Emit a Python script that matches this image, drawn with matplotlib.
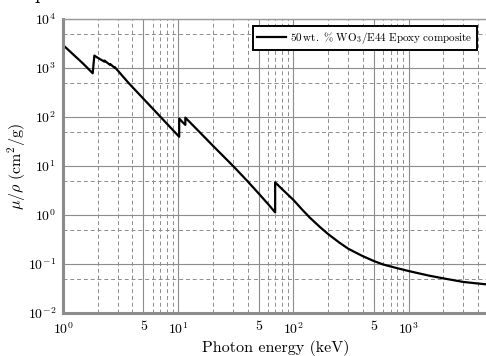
import matplotlib
matplotlib.use('Agg')
import matplotlib.pyplot as plt
import matplotlib.ticker as ticker
import numpy as np

plt.rcParams['font.family'] = 'serif'
plt.rcParams['font.serif'] = ['cmr10']
plt.rcParams['mathtext.fontset'] = 'cm'
plt.rcParams['axes.unicode_minus'] = False
plt.rcParams['axes.formatter.use_mathtext'] = True

# photon energy (keV) and mass attenuation coefficient (cm2/g)
energy = [1.0, 1.5, 1.81, 1.872, 2.0, 2.281, 2.281, 2.575, 2.575, 2.82, 2.82,
          3.0, 3.7, 5.0, 6.0, 8.0, 10.207, 10.207, 11.0, 11.544, 11.544,
          15.0, 20.0, 30.0, 40.0, 50.0, 60.0, 69.525, 69.525, 80.0, 100.0,
          120.0, 140.0, 170.0, 200.0, 250.0, 300.0, 350.0, 400.0, 500.0,
          600.0, 800.0, 1000.0, 1500.0, 2000.0, 3000.0, 4000.0, 5000.0]
mu_rho = [2950, 1220, 780, 1790, 1620, 1350, 1420, 1150, 1200, 1000, 1040,
          880, 498, 235, 149, 72.6, 39.5, 93, 77, 69, 97,
          52, 26, 10.0, 4.9, 2.75, 1.7, 1.13, 4.64, 3.36, 2.04,
          1.27, 0.87, 0.57, 0.41, 0.275, 0.205, 0.17, 0.145, 0.115,
          0.098, 0.082, 0.072, 0.058, 0.051, 0.043, 0.040, 0.038]

fig = plt.figure(figsize=(4.86, 3.56), dpi=100)
ax = fig.add_axes([63/486, 1 - 313/356, (489 - 63)/486, (313 - 19)/356])

ax.plot(energy, mu_rho, color='black', lw=1.6,
        label=r'$\mathrm{50\,wt.\ \%\ WO_3/E44\ Epoxy\ composite}$')

ax.set_xscale('log')
ax.set_yscale('log')
ax.set_xlim(1, 5000)
ax.set_ylim(1e-2, 1e4)

def xfmt(v, pos):
    e = int(round(np.log10(v)))
    if abs(v - 10**e) < 1e-6 * v:
        return r'$10^{%d}$' % e
    return '5'

ax.xaxis.set_major_locator(ticker.LogLocator(base=10, subs=(1.0, 5.0)))
ax.xaxis.set_major_formatter(ticker.FuncFormatter(xfmt))
ax.xaxis.set_minor_locator(ticker.LogLocator(base=10, subs=(2, 3, 4, 6, 7, 8, 9)))
ax.xaxis.set_minor_formatter(ticker.NullFormatter())

ax.yaxis.set_major_locator(ticker.LogLocator(base=10, numticks=10))
ax.yaxis.set_major_formatter(ticker.FuncFormatter(lambda v, p: r'$10^{%d}$' % int(round(np.log10(v)))))
ax.yaxis.set_minor_locator(ticker.LogLocator(base=10, subs=(5,), numticks=10))
ax.yaxis.set_minor_formatter(ticker.NullFormatter())

ax.grid(True, which='major', color='0.55', lw=0.8, ls='-')
ax.grid(True, which='minor', color='0.55', lw=0.7, ls=(0, (4, 3)))
ax.set_axisbelow(True)

ax.tick_params(which='both', length=0, labelsize=10, colors='black')
ax.tick_params(axis='x', pad=6)
ax.tick_params(axis='y', pad=5)

for side in ['left', 'bottom']:
    ax.spines[side].set_color('0.55')
    ax.spines[side].set_linewidth(2.2)
for side in ['top', 'right']:
    ax.spines[side].set_color('0.6')
    ax.spines[side].set_linewidth(1.0)

ax.set_xlabel('Photon energy (keV)', fontsize=11.5, labelpad=2)
ax.set_ylabel(r'$\mu/\rho\ \mathrm{(cm^2/g)}$', fontsize=11.5, labelpad=0)

leg = ax.legend(loc='upper left', bbox_to_anchor=((253 - 63)/426, 1 - (26 - 19)/294),
                fontsize=8, frameon=True, fancybox=False, framealpha=1,
                edgecolor='black', handlelength=2.6, handletextpad=0.4,
                borderpad=0.35, borderaxespad=0)
leg.get_frame().set_linewidth(1.4)

fig.text(40/486, 1 + 1/356, 'p', fontsize=14, ha='center', va='baseline')

plt.savefig('out.png', dpi=100)
